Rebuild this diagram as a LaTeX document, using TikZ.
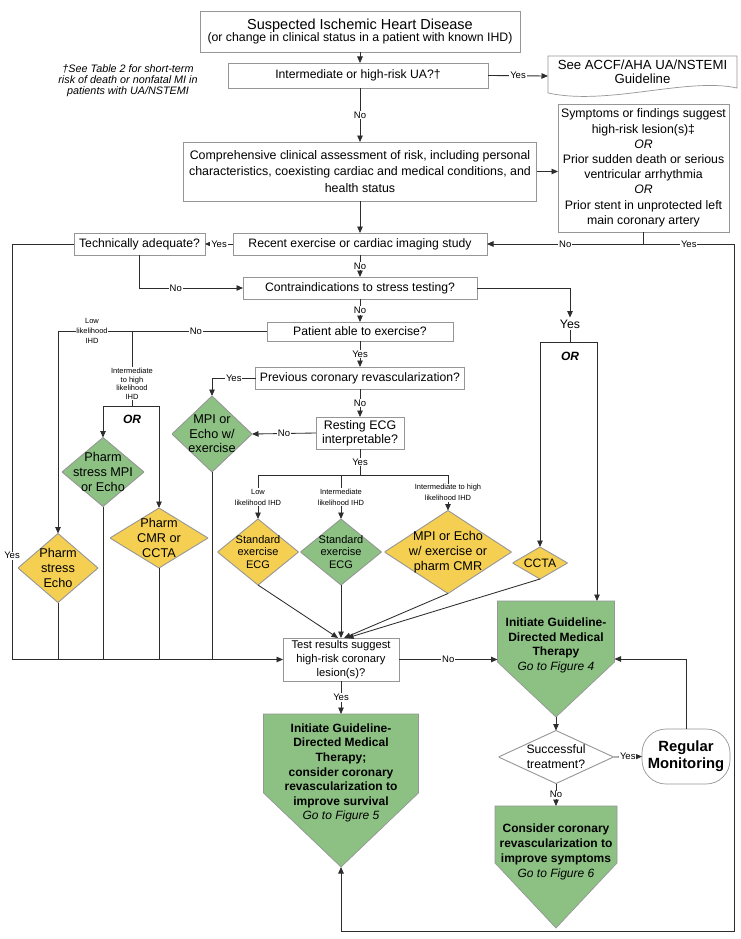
\documentclass[tikz,border=0pt]{standalone}
\usepackage{fontspec}
\setmainfont{Liberation Sans}
\usetikzlibrary{arrows.meta,calc}
\definecolor{boxgreen}{RGB}{140,193,131}
\definecolor{boxyellow}{RGB}{245,207,82}
\definecolor{edgegray}{RGB}{150,150,150}
\definecolor{linegray}{RGB}{45,45,45}
\newcommand{\fz}[2]{\fontsize{#1}{#2}\selectfont}
\begin{document}
\begin{tikzpicture}[x=1pt,y=-1pt,
  box/.style={draw=edgegray, fill=white, line width=0.7pt, rectangle, inner sep=0pt, outer sep=0pt, align=center, text=black},
  ghost/.style={rectangle, inner sep=0pt, outer sep=0pt, draw=none},
  dia/.style={rectangle, inner sep=0pt, outer sep=0pt, align=center,
    path picture={\filldraw[draw=edgegray, line width=0.9pt, fill=#1]
      (path picture bounding box.north) -- (path picture bounding box.east) --
      (path picture bounding box.south) -- (path picture bounding box.west) -- cycle;}},
  conn/.style={draw=linegray, line width=0.85pt},
  arr/.style={conn, -{Triangle[length=6.5pt,width=5.5pt]}},
  lbl/.style={fill=white, inner sep=0.8pt, font=\fz{9.5}{11}},
  tiny/.style={fill=white, inner sep=0.5pt, align=center, font=\fz{7.5}{#1}},
  tiny/.default=10,
  pent/.style={fill=boxgreen, draw=edgegray, line width=0.7pt},
  penttext/.style={align=center, inner sep=0pt, font=\bfseries\fz{12}{14.6}},
  ortext/.style={font=\bfseries\itshape\fz{12}{14}, inner sep=0pt},
]
\fill[white] (0,0) rectangle (741,939);
\useasboundingbox (0,0) rectangle (741,939);

% ---------- top part ----------
\node[box, minimum width=320pt, minimum height=41pt] (top) at (360,32)
  {\fz{14.5}{15}Suspected Ischemic Heart Disease\\\fz{12.3}{14.5}(or change in clinical status in a patient with known IHD)};
\node[box, minimum width=260pt, minimum height=25pt, font=\fz{12.2}{14}] (ua) at (358,75.5) {Intermediate or high-risk UA?†};
\node[font=\itshape\fz{10.8}{10.8}, align=center, inner sep=0pt] (fn) at (128,80.5)
  {†See Table 2 for short-term\\risk of death or nonfatal MI in\\patients with UA/NSTEMI};

\node[ghost, minimum width=189pt, minimum height=40pt] (doc) at (642.5,76) {};
\filldraw[fill=white, draw=edgegray, line width=0.7pt]
  (doc.north west) -- (doc.north east) -- ($(doc.north east)+(0,32)$)
  .. controls ($(doc.north east)+(-50,21)$) and ($(doc.north west)+(60,50)$) ..
  ($(doc.north west)+(0,37)$) -- cycle;
\node[font=\fz{13.2}{14.5}, align=center, inner sep=0pt] (doctext) at (642.5,72) {See ACCF/AHA UA/NSTEMI\\Guideline};

\node[box, minimum width=353pt, minimum height=59pt, font=\fz{12.4}{16.5}] (assess) at (360,171.5)
  {Comprehensive clinical assessment of risk, including personal\\characteristics, coexisting cardiac and medical conditions, and\\health status};
\node[box, minimum width=171pt, minimum height=128pt, font=\fz{12.3}{15.2}] (risk) at (643.5,168)
  {Symptoms or findings suggest\\high-risk lesion(s)‡\\\textit{OR}\\Prior sudden death or serious\\ventricular arrhythmia\\\textit{OR}\\Prior stent in unprotected left\\main coronary artery};

\node[box, minimum width=254pt, minimum height=22pt, font=\fz{12.2}{14}] (recent) at (360,244) {Recent exercise or cardiac imaging study};
\node[box, minimum width=131pt, minimum height=22pt, font=\fz{12.2}{14}] (tech) at (139.5,244) {Technically adequate?};
\node[box, minimum width=234pt, minimum height=22pt, font=\fz{12.2}{14}] (contra) at (360,288) {Contraindications to stress testing?};
\node[font=\fz{12.3}{14}, inner sep=2pt] (yesr) at (570,324) {Yes};
\node[ortext] (or1) at (570,356) {OR};

\node[box, minimum width=186pt, minimum height=19pt, font=\fz{12.2}{14}] (patient) at (360,331.5) {Patient able to exercise?};
\node[box, minimum width=209pt, minimum height=22pt, font=\fz{12.2}{14}] (prev) at (360,378) {Previous coronary revascularization?};
\node[box, minimum width=88pt, minimum height=32pt, font=\fz{12.4}{14}] (ecg) at (360,433) {Resting ECG\\interpretable?};
\node[ortext] (or2) at (132,419) {OR};

% ---------- diamonds ----------
\node[dia=boxyellow, minimum width=80pt, minimum height=69pt, font=\fz{12.7}{15}] (echoP) at (58,568) {Pharm\\stress\\Echo};
\node[dia=boxgreen, minimum width=82pt, minimum height=69pt, font=\fz{12.7}{15}] (mpiP) at (103,472) {Pharm\\stress MPI\\or Echo};
\node[dia=boxyellow, minimum width=98pt, minimum height=60pt, font=\fz{12.7}{15}] (cmrP) at (159,538) {Pharm\\CMR or\\CCTA};
\node[dia=boxgreen, minimum width=80pt, minimum height=76pt, font=\fz{12.7}{14.5}] (mpiE) at (212,434) {MPI or\\Echo w/\\exercise};
\node[dia=boxyellow, minimum width=81pt, minimum height=66pt, font=\fz{11}{12.5}] (std1) at (258,552) {Standard\\exercise\\ECG};
\node[dia=boxgreen, minimum width=81pt, minimum height=66pt, font=\fz{11}{12.5}] (std2) at (341,552) {Standard\\exercise\\ECG};
\node[dia=boxyellow, minimum width=127pt, minimum height=83pt, font=\fz{12.7}{15}] (mpiX) at (448,552) {MPI or Echo\\w/ exercise or\\pharm CMR};
\node[dia=boxyellow, minimum width=55pt, minimum height=32pt, font=\fz{12.2}{14}] (ccta) at (540,563) {CCTA};

% ---------- bottom part ----------
\node[box, minimum width=116pt, minimum height=43pt, font=\fz{11.2}{14}] (test) at (341,659.5) {Test results suggest\\high-risk coronary\\lesion(s)?};

\node[ghost, minimum width=117pt, minimum height=116pt] (gA) at (556,659) {};
\filldraw[pent] (gA.north west) -- (gA.north east) -- ($(gA.north east)!0.526!(gA.south east)$)
  -- (gA.south) -- ($(gA.north west)!0.526!(gA.south west)$) -- cycle;
\node[penttext] (gAtext) at (556,645.5) {Initiate Guideline-\\Directed Medical\\Therapy\\\mdseries\itshape Go to Figure 4};

\node[ghost, minimum width=155pt, minimum height=153pt] (gB) at (341,790.5) {};
\filldraw[pent] (gB.north west) -- (gB.north east) -- ($(gB.north east)!0.516!(gB.south east)$)
  -- (gB.south) -- ($(gB.north west)!0.516!(gB.south west)$) -- cycle;
\node[penttext] (gBtext) at (341,773) {Initiate Guideline-\\Directed Medical\\Therapy;\\consider coronary\\revascularization to\\improve survival\\\mdseries\itshape Go to Figure 5};

\node[dia=white, minimum width=115pt, minimum height=53pt, font=\fz{12.2}{15}] (succ) at (556,757) {Successful\\treatment?};
\node[box, rounded corners=24pt, minimum width=88pt, minimum height=55pt, font=\bfseries\fz{14.8}{17}] (mon) at (686,756.5) {Regular\\Monitoring};

\node[ghost, minimum width=122pt, minimum height=122pt] (gC) at (556,867) {};
\filldraw[pent] (gC.north west) -- (gC.north east) -- ($(gC.north east)!0.467!(gC.south east)$)
  -- (gC.south) -- ($(gC.north west)!0.467!(gC.south west)$) -- cycle;
\node[penttext, font=\bfseries\fz{12}{15}] (gCtext) at (556,852) {Consider coronary\\revascularization to\\improve symptoms\\\mdseries\itshape Go to Figure 6};

% ---------- coordinates ----------
\coordinate (rj) at (risk.south |- recent.east);
\coordinate (rr) at (734,244);
\coordinate (rb) at (734,931);
\coordinate (lr) at (12,244);
\coordinate (orj) at (570,342);
\coordinate (orL) at (540,342);
\coordinate (orR) at (597,342);
\coordinate (pl) at (58,331.5);
\coordinate (pm) at (132,331.5);
\coordinate (om) at (132,406);
\coordinate (oL) at (103,406);
\coordinate (oR) at (159,406);
\coordinate (ej) at (360,475);
\coordinate (eL) at (258,475);
\coordinate (eM) at (341,475);
\coordinate (eR) at (448,475);

% ---------- connectors ----------
\draw[arr] (top.south) -- (top.south |- ua.north);
\draw[arr] (ua.east) -- node[lbl]{Yes} (doc.west);
\draw[arr] (ua.south -| assess.north) -- node[lbl]{No} (assess.north);
\draw[arr] (assess.east) -- (assess.east -| risk.west);
\draw[arr] (assess.south) -- (recent.north);
\draw[conn] (risk.south) -- (rj);
\draw[arr] (rj) -- node[lbl]{No} (recent.east);
\draw[arr] (rj) -- node[lbl]{Yes} (rr) -- (rb) -- (rb -| gB.south) -- (gB.south);
\draw[arr] (recent.west) -- node[lbl]{Yes} (tech.east);
\draw[arr] (tech.west) -- (lr) -- node[lbl, pos=0.75]{Yes} (lr |- test.west) -- (test.west);
\draw[arr] (tech.south) -- (tech.south |- contra.west) -- node[lbl, pos=0.35]{No} (contra.west);
\draw[arr] (recent.south) -- node[lbl]{No} (contra.north);
\draw[arr] (contra.east) -- (contra.east -| yesr.north) -- (yesr.north);
\draw[conn] (yesr.south) -- (orj);
\draw[arr] (orj) -- (orL) -- (ccta.north);
\draw[arr] (orj) -- (orR) -- (orR |- gA.north);
\draw[arr] (contra.south) -- node[lbl]{No} (patient.north);

\draw[arr] (patient.west) -- node[lbl, pos=0.34]{No} (pl) -- (echoP.north);
\node[tiny] (lowL) at (92,331) {Low\\likelihood\\IHD};
\draw[conn] (pm) -- node[tiny=8.7, pos=0.70]{Intermediate\\to high\\likelihood\\IHD} (om);
\draw[arr] (om) -- (oL) -- (mpiP.north);
\draw[arr] (om) -- (oR) -- (cmrP.north);

\draw[arr] (patient.south) -- node[lbl]{Yes} (prev.north);
\draw[arr] (prev.west) -- node[lbl]{Yes} (prev.west -| mpiE.north) -- (mpiE.north);
\draw[arr] (prev.south) -- node[lbl]{No} (ecg.north);
\draw[arr] (ecg.west) -- node[lbl]{No} (mpiE.east);
\draw[conn] (ecg.south) -- node[lbl]{Yes} (ej);
\draw[conn] (eL) -- (eR);
\draw[arr] (eL) -- node[tiny=11]{Low\\likelihood IHD} (std1.north);
\draw[arr] (eM) -- node[tiny=11]{Intermediate\\likelihood IHD} (std2.north);
\draw[arr] (eR) -- node[tiny=11]{Intermediate to high\\likelihood IHD} (mpiX.north);

\draw[arr] (std1.south) -- ($(test.north)+(-3,0)$);
\draw[arr] (std2.south) -- (test.north);
\draw[arr] (mpiX.south) -- ($(test.north)+(3,0)$);
\draw[arr] (ccta.south) -- ($(test.north)+(6,0)$);

\draw[conn] (echoP.south) -- (echoP.south |- test.west);
\draw[conn] (mpiP.south) -- (mpiP.south |- test.west);
\draw[conn] (cmrP.south) -- (cmrP.south |- test.west);
\draw[conn] (mpiE.south) -- (mpiE.south |- test.west);

\draw[arr] (test.east) -- node[lbl]{No} (test.east -| gA.west);
\draw[arr] (test.south) -- node[lbl]{Yes} (gB.north);
\draw[arr] (gA.south) -- (succ.north);
\draw[arr] (succ.east) -- node[lbl]{Yes} (mon.west);
\draw[arr] (mon.north) -- (mon.north |- gA.east) -- (gA.east);
\draw[arr] (succ.south) -- node[lbl]{No} (gC.north);
\end{tikzpicture}
\end{document}
